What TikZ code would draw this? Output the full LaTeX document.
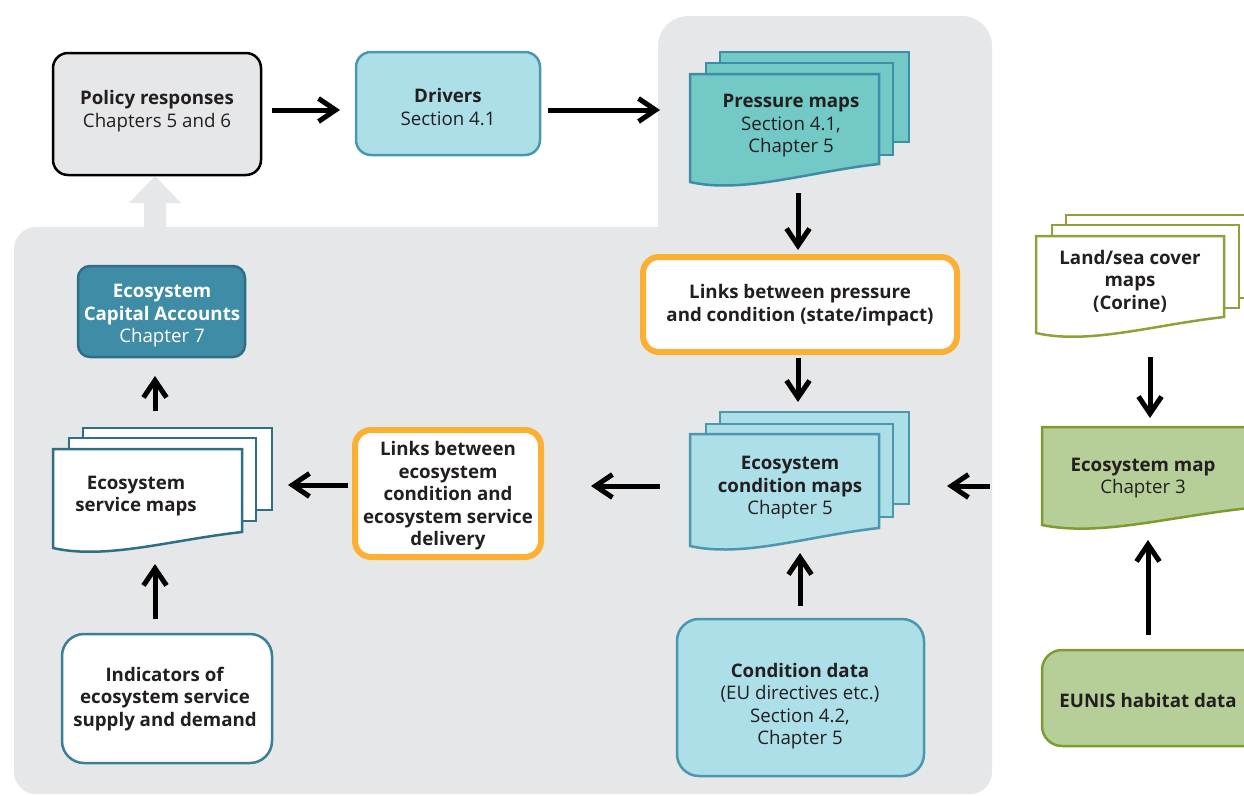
\documentclass[tikz,border=0pt]{standalone}
\usepackage{fontspec}
\setmainfont{Open Sans}
\usetikzlibrary{arrows.meta}
\definecolor{bggray}{HTML}{E6E7E8}
\definecolor{lblue}{HTML}{ADDFE8}
\definecolor{lblueb}{HTML}{4A97AF}
\definecolor{cteal}{HTML}{72C9C5}
\definecolor{ctealb}{HTML}{3E8DA7}
\definecolor{dteal}{HTML}{3F8CA6}
\definecolor{dtealb}{HTML}{2E6F88}
\definecolor{servb}{HTML}{2F6F84}
\definecolor{indb}{HTML}{3B7F94}
\definecolor{orng}{HTML}{FBB034}
\definecolor{lgreen}{HTML}{B6CF98}
\definecolor{greenb}{HTML}{7F9B30}
\definecolor{landb}{HTML}{8CA23A}
\definecolor{txt}{HTML}{231F20}
% document sheet: style, x1, y1, x2, yLeft, yRight
\newcommand\docsheet[6]{\draw[#1] (#2,#3) -- (#4,#3) -- (#4,#6) .. controls ({#2+0.62*(#4-#2)},{#6+8}) and ({#2+0.28*(#4-#2)},{#5+12}) .. (#2,#5) -- cycle;}
\begin{document}
\begin{tikzpicture}[x=1pt,y=-1pt,
  every node/.style={text=txt, font=\fontsize{18.7}{22.5}\selectfont, align=center, inner sep=0pt},
  box/.style={draw, line width=2.5pt, rounded corners=#1},
  box/.default=15pt,
  orbox/.style={draw=orng, fill=white, line width=6pt, rounded corners=16pt},
  sheet/.style={line width=2.5pt},
  arr/.style={line width=5pt, -{Straight Barb[length=17pt,width=23pt]}}]
\useasboundingbox (0,0) rectangle (1244,795);
% background regions
\fill[bggray, rounded corners=22pt] (14,227) rectangle (992,794);
\fill[bggray, rounded corners=30pt] (658,16) rectangle (992,300);
% wide light arrow up to policy responses
\fill[bggray] (144,228) -- (144,203) -- (129,203) -- (155,176) -- (181,203) -- (166,203) -- (166,228) -- cycle;

% boxes
\node[box, fill=bggray, draw=black, minimum width=208pt, minimum height=122pt] (policy) at (157,114) {};
\node[box, fill=lblue, draw=lblueb, minimum width=184pt, minimum height=103pt] (drivers) at (448,103.5) {};
\node[orbox, minimum width=314pt, minimum height=95pt] (linkpc) at (800,304.5) {};
\node[box=22pt, fill=lblue, draw=lblueb, minimum width=247pt, minimum height=157pt] (conddata) at (800.5,697.5) {};
\node[orbox, minimum width=186pt, minimum height=127pt] (linkec) at (448,493.5) {};
\node[box=22pt, fill=white, draw=indb, minimum width=210pt, minimum height=129pt] (indic) at (167,698.5) {};
\node[box=12pt, fill=dteal, draw=dtealb, minimum width=167pt, minimum height=91pt] (capital) at (161.5,311.5) {};
\node[box=20pt, fill=lgreen, draw=greenb, minimum width=223pt, minimum height=96pt] (eunis) at (1153.5,698) {};

% document stacks
\draw[sheet, fill=cteal, draw=ctealb] (720,52) rectangle (909,142);
\draw[sheet, fill=cteal, draw=ctealb] (706,63) rectangle (893,155);
\docsheet{sheet, fill=cteal, draw=ctealb}{690}{74}{879}{182}{164}
\draw[sheet, fill=lblue, draw=lblueb] (720,412) rectangle (909,504);
\draw[sheet, fill=lblue, draw=lblueb] (706,424) rectangle (893,517);
\docsheet{sheet, fill=lblue, draw=lblueb}{690}{434}{879}{546}{528}
\draw[sheet, fill=white, draw=servb] (83,428) rectangle (272,510);
\draw[sheet, fill=white, draw=servb] (69,438) rectangle (256,521);
\docsheet{sheet, fill=white, draw=servb}{53}{449}{242}{548}{532}
\draw[sheet, fill=white, draw=landb] (1066,215) rectangle (1262,298);
\draw[sheet, fill=white, draw=landb] (1052,225) rectangle (1239,308);
\docsheet{sheet, fill=white, draw=landb}{1036}{236}{1224}{333}{317}
\docsheet{sheet, fill=lgreen, draw=greenb}{1042}{427}{1250}{525}{508}

% texts
\node (policyT) at (157,111) {\textbf{Policy responses}\\Chapters 5 and 6};
\node (driversT) at (448,107) {\textbf{Drivers}\\Section 4.1};
\node (pressure) at (791,126) {\textbf{Pressure maps}\\Section 4.1,\\Chapter 5};
\node (linkpcT) at (800,305) {\textbf{Links between pressure}\\\textbf{and condition (state/impact)}};
\node (condmaps) at (790,488) {\textbf{Ecosystem}\\\textbf{condition maps}\\Chapter 5};
\node (conddataT) at (800,706) {\textbf{Condition data}\\(EU directives etc.)\\Section 4.2,\\Chapter 5};
\node (linkecT) at (448,496) {\textbf{Links between}\\\textbf{ecosystem}\\\textbf{condition and}\\\textbf{ecosystem service}\\\textbf{delivery}};
\node (servmaps) at (136,496) {\textbf{Ecosystem}\\\textbf{service maps}};
\node (indicT) at (165,699) {\textbf{Indicators of}\\\textbf{ecosystem service}\\\textbf{supply and demand}};
\node[text=white] (capitalT) at (162,316) {\textbf{Ecosystem}\\\textbf{Capital Accounts}\\Chapter 7};
\node (landsea) at (1130,281) {\textbf{Land/sea cover}\\\textbf{maps}\\\textbf{(Corine)}};
\node (ecomap) at (1143,478) {\textbf{Ecosystem map}\\Chapter 3};
\node (eunisT) at (1148,700) {\textbf{EUNIS habitat data}};

% connector end points
\coordinate (a1s) at (272,110); \coordinate (a1e) at (340,110);
\coordinate (a2s) at (548,110); \coordinate (a2e) at (660,110);
\coordinate (a3s) at (798,193); \coordinate (a3e) at (798,250);
\coordinate (a4s) at (798,358); \coordinate (a4e) at (798,402);
\coordinate (a5s) at (800,606); \coordinate (a5e) at (800,553);
\coordinate (a6s) at (990,486); \coordinate (a6e) at (947,486);
\coordinate (a7s) at (660,486); \coordinate (a7e) at (591,486);
\coordinate (a8s) at (348,485); \coordinate (a8e) at (288,485);
\coordinate (a9s) at (155,619); \coordinate (a9e) at (155,564);
\coordinate (a10s) at (155,411); \coordinate (a10e) at (155,376);
\coordinate (a11s) at (1150,357); \coordinate (a11e) at (1150,418);
\coordinate (a12s) at (1148,635); \coordinate (a12e) at (1148,540);

\draw[arr] (a1s) -- (a1e);
\draw[arr] (a2s) -- (a2e);
\draw[arr] (a3s) -- (a3e);
\draw[arr] (a4s) -- (a4e);
\draw[arr] (a5s) -- (a5e);
\draw[arr] (a6s) -- (a6e);
\draw[arr] (a7s) -- (a7e);
\draw[arr] (a8s) -- (a8e);
\draw[arr] (a9s) -- (a9e);
\draw[arr] (a10s) -- (a10e);
\draw[arr] (a11s) -- (a11e);
\draw[arr] (a12s) -- (a12e);
\end{tikzpicture}
\end{document}
